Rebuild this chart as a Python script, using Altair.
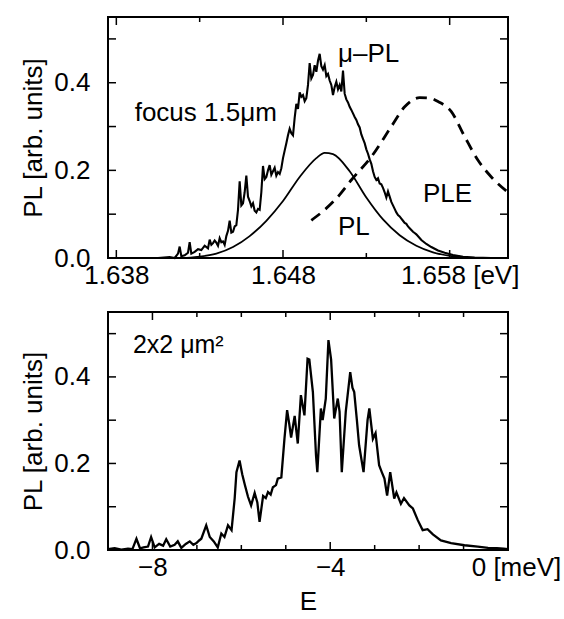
import altair as alt
import pandas as pd
import numpy as np

FONT = "Liberation Sans"

# ---------------- top panel data ----------------
mupl_x_head = [1.6375, 1.6405, 1.6412, 1.6415, 1.6417, 1.6418, 1.6419, 1.6421, 1.6423, 1.6424,
               1.6425, 1.6427, 1.6429, 1.6431, 1.6433, 1.6435, 1.6436, 1.6437, 1.6438, 1.6439]
mupl_y_head = [0.0, 0.0, 0.002, 0.0, 0.010, 0.026, 0.004, 0.006, 0.012, 0.036,
               0.010, 0.014, 0.020, 0.018, 0.028, 0.022, 0.042, 0.030, 0.034, 0.040]
mupl_y_mid = [0.035, 0.028, 0.045, 0.036, 0.038, 0.030, 0.050, 0.062, 0.085, 0.058,
              0.060, 0.072, 0.075, 0.110, 0.175, 0.120, 0.125, 0.150, 0.188, 0.140,
              0.130, 0.118, 0.125, 0.108, 0.104, 0.112, 0.110, 0.150, 0.210, 0.180,
              0.185, 0.200, 0.212, 0.190, 0.198, 0.206, 0.188, 0.196, 0.192, 0.205,
              0.228, 0.245, 0.262, 0.280, 0.295, 0.285, 0.280, 0.320, 0.352, 0.340,
              0.378, 0.368, 0.372, 0.358, 0.365, 0.395, 0.445, 0.410, 0.418, 0.440,
              0.425, 0.450, 0.466, 0.438, 0.430, 0.440, 0.415, 0.420, 0.405, 0.395,
              0.372, 0.390, 0.402, 0.385, 0.395, 0.380, 0.428, 0.375, 0.362, 0.355,
              0.345, 0.338, 0.330, 0.322, 0.315, 0.305, 0.298, 0.282, 0.272, 0.262,
              0.248, 0.238, 0.225, 0.215, 0.198, 0.185, 0.178, 0.182, 0.170, 0.168,
              0.160, 0.150, 0.138, 0.152, 0.140, 0.128, 0.120, 0.112, 0.104, 0.098,
              0.095, 0.090, 0.085, 0.080, 0.078, 0.072, 0.068, 0.064, 0.060, 0.057,
              0.054]
mupl_x_mid = list(np.round(1.6440 + 0.0001 * np.arange(len(mupl_y_mid)), 4))
mupl_x_tail = [1.6563, 1.6566, 1.6569, 1.6573, 1.6577, 1.6582, 1.6588, 1.6595, 1.6605, 1.6615]
mupl_y_tail = [0.041, 0.032, 0.025, 0.017, 0.012, 0.007, 0.003, 0.001, 0.0, 0.0]

pl_x = [1.6375, 1.6420, 1.6430, 1.6440, 1.6450, 1.6460, 1.6470, 1.6480, 1.6490, 1.6500,
        1.6505, 1.6510, 1.6520, 1.6530, 1.6540, 1.6550, 1.6560, 1.6570, 1.6580, 1.6590,
        1.6600, 1.6615]
pl_y = [0.0, 0.0, 0.003, 0.010, 0.025, 0.050, 0.085, 0.130, 0.185, 0.228,
        0.240, 0.237, 0.198, 0.138, 0.088, 0.052, 0.028, 0.013, 0.005, 0.001,
        0.0, 0.0]

ple_x = [1.6497, 1.6505, 1.6513, 1.6521, 1.6533, 1.6545, 1.6553, 1.6562, 1.6568, 1.6573,
         1.6581, 1.6589, 1.6597, 1.6605, 1.6615]
ple_y = [0.086, 0.110, 0.140, 0.178, 0.231, 0.300, 0.345, 0.366, 0.365, 0.357,
         0.334, 0.277, 0.223, 0.185, 0.150]

top_labels = ["focus 1.5\u03bcm", "\u03bc\u2013PL", "PL", "PLE"]
top_label_x = [1.6391, 1.6513, 1.6513, 1.6564]
top_label_y = [0.313, 0.448, 0.053, 0.128]

top_xticks_major = [1.638, 1.648, 1.658]
top_xticks_minor = [1.643, 1.653]
top_yticks = [0.1, 0.2, 0.3, 0.4, 0.5]

# ---------------- bottom panel data ----------------
e_x = [-9.00, -8.85, -8.70, -8.55, -8.45, -8.36, -8.28, -8.20, -8.10, -8.03,
       -7.95, -7.85, -7.76, -7.69, -7.60, -7.50, -7.43, -7.35, -7.25, -7.16,
       -7.08, -7.01, -6.95, -6.90, -6.79, -6.71, -6.62, -6.53, -6.45, -6.38,
       -6.30, -6.22, -6.15, -6.11, -6.04, -5.98, -5.92, -5.85, -5.78, -5.70,
       -5.64, -5.59, -5.51, -5.45, -5.40, -5.34, -5.29, -5.22, -5.18, -5.10,
       -5.03, -4.97, -4.92, -4.88, -4.80, -4.73, -4.66, -4.58, -4.51, -4.47,
       -4.39, -4.32, -4.29, -4.21, -4.17, -4.10, -4.04, -3.98, -3.91, -3.83,
       -3.79, -3.74, -3.65, -3.55, -3.50, -3.46, -3.40, -3.35, -3.25, -3.16,
       -3.12, -3.04, -2.98, -2.90, -2.84, -2.78, -2.72, -2.65, -2.56, -2.51,
       -2.41, -2.34, -2.22, -2.14, -2.03, -1.92, -1.81, -1.69, -1.51, -1.28,
       -0.98, -0.68, -0.45, -0.25, -0.10, 0.00]
e_y = [0.002, 0.004, 0.001, 0.003, 0.002, 0.026, 0.004, 0.006, 0.008, 0.030,
       0.006, 0.014, 0.010, 0.025, 0.008, 0.012, 0.020, 0.005, 0.014, 0.020,
       0.012, 0.016, 0.022, 0.026, 0.057, 0.030, 0.020, 0.006, 0.038, 0.030,
       0.057, 0.046, 0.119, 0.180, 0.207, 0.175, 0.150, 0.123, 0.103, 0.132,
       0.110, 0.065, 0.125, 0.120, 0.134, 0.128, 0.145, 0.150, 0.165, 0.168,
       0.257, 0.323, 0.290, 0.260, 0.310, 0.246, 0.358, 0.311, 0.442, 0.440,
       0.365, 0.219, 0.180, 0.327, 0.300, 0.350, 0.485, 0.440, 0.304, 0.350,
       0.320, 0.180, 0.320, 0.411, 0.375, 0.365, 0.300, 0.242, 0.180, 0.300,
       0.327, 0.257, 0.270, 0.196, 0.180, 0.165, 0.126, 0.180, 0.119, 0.133,
       0.107, 0.120, 0.103, 0.096, 0.069, 0.046, 0.048, 0.036, 0.022, 0.016,
       0.011, 0.008, 0.005, 0.004, 0.003, 0.002]

bot_label = ["2x2 \u03bcm\u00b2"]
bot_label_x = [-8.44]
bot_label_y = [0.455]

bot_xticks_major = [-8, -4]
bot_xticks_minor = [-7, -6, -5, -3, -2, -1]
bot_yticks = [0.1, 0.2, 0.3, 0.4, 0.5]

# ---------------- build ----------------
W = 400
H_TOP = 241
H_BOT = 238
FS = 26


def panel(lines, texts, xscale, xaxis, yscale, yaxis, xt_major, xt_minor, yt, W, H, text_size=25):
    layers = []
    for df, style in lines:
        layers.append(
            alt.Chart(df).mark_line(color="black", **style).encode(
                x=alt.X("x:Q", scale=xscale, axis=xaxis),
                y=alt.Y("y:Q", scale=yscale, axis=yaxis),
                order="i:Q",
            )
        )
    for df in texts:
        layers.append(
            alt.Chart(df).mark_text(font=FONT, fontSize=text_size, align="left",
                                     baseline="alphabetic", color="black").encode(
                x=alt.X("x:Q", scale=xscale, axis=xaxis),
                y=alt.Y("y:Q", scale=yscale, axis=yaxis),
                text="t:N",
            )
        )
    # inward ticks on all four sides
    for vals, ln in ((xt_major, 8), (xt_minor, 5)):
        d = pd.DataFrame({"x": vals})
        layers.append(alt.Chart(d).mark_rule(color="black", strokeWidth=1.5).encode(
            x=alt.X("x:Q", scale=xscale, axis=xaxis), y=alt.value(H), y2=alt.value(H - ln)))
        layers.append(alt.Chart(d).mark_rule(color="black", strokeWidth=1.5).encode(
            x=alt.X("x:Q", scale=xscale, axis=xaxis), y=alt.value(0), y2=alt.value(ln)))
    d = pd.DataFrame({"y": yt})
    layers.append(alt.Chart(d).mark_rule(color="black", strokeWidth=1.5).encode(
        y=alt.Y("y:Q", scale=yscale, axis=yaxis), x=alt.value(0), x2=alt.value(8)))
    layers.append(alt.Chart(d).mark_rule(color="black", strokeWidth=1.5).encode(
        y=alt.Y("y:Q", scale=yscale, axis=yaxis), x=alt.value(W), x2=alt.value(W - 8)))
    return alt.layer(*layers).properties(width=W, height=H)


yaxis = alt.Axis(title="PL [arb. units]", values=[0, 0.2, 0.4], format=".1f",
                 labelPadding=18, titlePadding=7)
yscale = alt.Scale(domain=[0, 0.55], nice=False, zero=False)

# top
mupl_df = pd.DataFrame({"x": mupl_x_head + mupl_x_mid + mupl_x_tail,
                        "y": mupl_y_head + mupl_y_mid + mupl_y_tail})
mupl_df["i"] = range(len(mupl_df))
pl_df = pd.DataFrame({"x": pl_x, "y": pl_y, "i": range(len(pl_x))})
ple_df = pd.DataFrame({"x": ple_x, "y": ple_y, "i": range(len(ple_x))})
top_txt = pd.DataFrame({"x": top_label_x, "y": top_label_y, "t": top_labels})

xscale_top = alt.Scale(domain=[1.6375, 1.6615], nice=False, zero=False)
xaxis_top = alt.Axis(title=None, values=top_xticks_major, format=".3f", labelPadding=4,
                     labelFlush=False,
                     labelExpr="datum.value > 1.657 ? datum.label + ' [eV]' : datum.label",
                     labelOffset={"condition": {"test": "datum.value > 1.657", "value": 10}, "value": 0})

top = panel(
    [(mupl_df, {"strokeWidth": 2.1}),
     (pl_df, {"strokeWidth": 1.8, "interpolate": "monotone"}),
     (ple_df, {"strokeWidth": 2.8, "strokeDash": [11, 7], "interpolate": "monotone"})],
    [top_txt], xscale_top, xaxis_top, yscale, yaxis,
    top_xticks_major, top_xticks_minor, top_yticks, W, H_TOP, text_size=FS)

# bottom
e_df = pd.DataFrame({"x": e_x, "y": e_y, "i": range(len(e_x))})
bot_txt = pd.DataFrame({"x": bot_label_x, "y": bot_label_y, "t": bot_label})
xscale_bot = alt.Scale(domain=[-9, 0], nice=False, zero=False)
xaxis_bot = alt.Axis(title="E", values=[-8, -4, 0], labelPadding=4, titlePadding=8,
                     labelFlush=False,
                     labelExpr="datum.value == 0 ? '0 [meV]' : datum.label",
                     labelOffset={"condition": {"test": "datum.value == 0", "value": 8}, "value": 0})

bottom = panel(
    [(e_df, {"strokeWidth": 2.3})],
    [bot_txt], xscale_bot, xaxis_bot, yscale, yaxis,
    bot_xticks_major, bot_xticks_minor, bot_yticks, W, H_BOT, text_size=FS - 1)

chart = alt.vconcat(top, bottom, spacing=21).properties(
    padding={"left": 19, "top": 15, "right": 0, "bottom": 0},
    background="white",
).configure_view(
    stroke="black", strokeWidth=2
).configure_axis(
    labelFont=FONT, labelFontSize=FS, labelColor="black",
    titleFont=FONT, titleFontSize=FS, titleFontWeight="normal", titleColor="black",
    domain=False, ticks=False, tickSize=0, grid=False,
)

chart.save("out.html", embed_options={"renderer": "svg", "actions": False})
